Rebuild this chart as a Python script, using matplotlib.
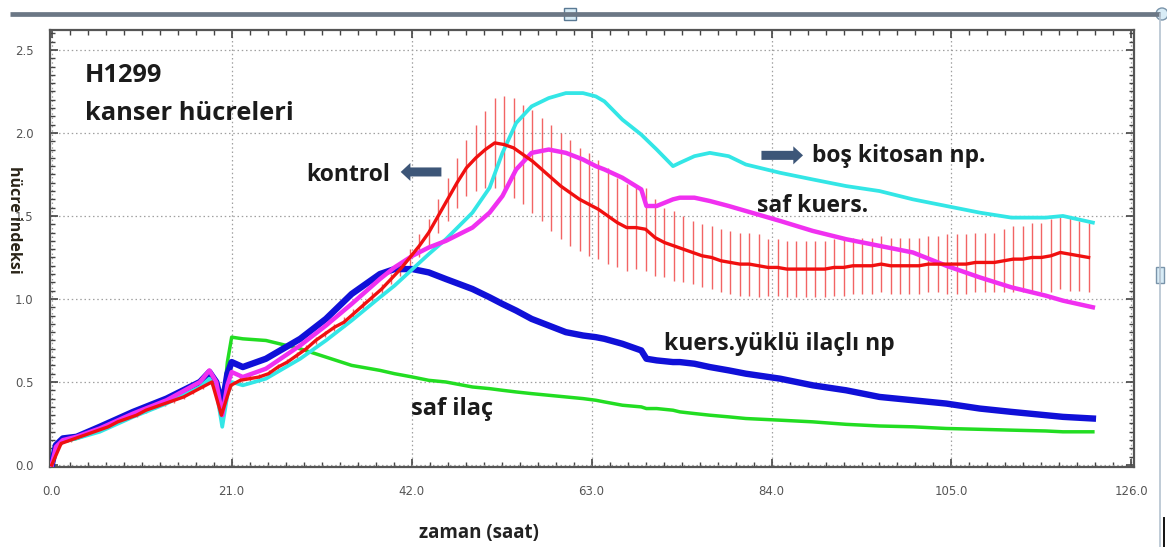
import matplotlib
matplotlib.use("Agg")
import matplotlib.pyplot as plt
from matplotlib.lines import Line2D
from matplotlib.patches import Rectangle, Ellipse
from matplotlib.ticker import MultipleLocator, FixedLocator

# ---------------- data ----------------
# measurement times (h) shared by the four treatment curves
saat = [0.0, 0.5, 1.3, 2.9, 5.6, 9.5, 13.4, 17.3, 18.4, 19.2,
        19.9, 20.5, 21.0, 22.3, 25.0, 29.0, 32.0, 35.0, 38.3, 40.0,
        42.1, 44.0, 46.0, 49.1, 51.1, 52.6, 54.2, 56.0, 58.0, 60.0,
        62.0, 63.5, 64.5, 66.6, 68.8, 69.4, 70.6, 72.5, 73.3, 75.0,
        76.8, 79.0, 81.0, 85.0, 88.8, 92.7, 96.6, 100.5, 104.4, 108.3,
        112.0, 116.0, 118.0, 121.5]

kuers_yuklu_np = [0.00, 0.12, 0.16, 0.17, 0.23, 0.32, 0.40, 0.50, 0.56, 0.50,
                  0.36, 0.55, 0.62, 0.59, 0.64, 0.76, 0.88, 1.03, 1.15, 1.18,
                  1.18, 1.16, 1.12, 1.06, 1.01, 0.97, 0.93, 0.88, 0.84, 0.80,
                  0.78, 0.77, 0.76, 0.73, 0.69, 0.64, 0.63, 0.62, 0.62, 0.61,
                  0.59, 0.57, 0.55, 0.52, 0.48, 0.45, 0.41, 0.39, 0.37, 0.34,
                  0.32, 0.30, 0.29, 0.28]

saf_ilac = [0.00, 0.10, 0.14, 0.16, 0.21, 0.30, 0.38, 0.47, 0.52, 0.46,
            0.30, 0.62, 0.77, 0.76, 0.75, 0.70, 0.65, 0.60, 0.57, 0.55,
            0.53, 0.51, 0.50, 0.47, 0.46, 0.45, 0.44, 0.43, 0.42, 0.41,
            0.40, 0.39, 0.38, 0.36, 0.35, 0.34, 0.34, 0.33, 0.32, 0.31,
            0.30, 0.29, 0.28, 0.27, 0.26, 0.245, 0.235, 0.23, 0.22, 0.215,
            0.21, 0.205, 0.20, 0.20]

bos_kitosan_np = [0.00, 0.10, 0.14, 0.16, 0.20, 0.29, 0.37, 0.47, 0.52, 0.45,
                  0.23, 0.42, 0.50, 0.48, 0.52, 0.64, 0.75, 0.87, 1.01, 1.08,
                  1.18, 1.27, 1.36, 1.52, 1.67, 1.88, 2.06, 2.16, 2.21, 2.24,
                  2.24, 2.22, 2.19, 2.08, 1.99, 1.96, 1.90, 1.80, 1.82, 1.86,
                  1.88, 1.86, 1.81, 1.76, 1.72, 1.68, 1.65, 1.60, 1.56, 1.52,
                  1.49, 1.49, 1.50, 1.46]

saf_kuers = [0.00, 0.11, 0.15, 0.17, 0.22, 0.31, 0.39, 0.50, 0.57, 0.50,
             0.30, 0.48, 0.56, 0.53, 0.58, 0.72, 0.84, 0.97, 1.12, 1.19,
             1.26, 1.31, 1.35, 1.43, 1.52, 1.62, 1.78, 1.88, 1.90, 1.88,
             1.84, 1.80, 1.78, 1.73, 1.66, 1.56, 1.56, 1.60, 1.61, 1.61,
             1.59, 1.56, 1.53, 1.47, 1.41, 1.36, 1.32, 1.28, 1.20, 1.13,
             1.07, 1.02, 0.99, 0.95]

# control: mean and standard deviation at every reading
kontrol_saat = [0.0, 1.1, 2.2, 3.3, 4.4, 5.5, 6.6, 7.7, 8.8, 9.9,
                11.0, 12.1, 13.2, 14.3, 15.4, 16.5, 17.6, 18.7, 19.8, 20.9,
                22.0, 23.1, 24.2, 25.3, 26.4, 27.5, 28.6, 29.7, 30.8, 31.9,
                33.0, 34.1, 35.2, 36.3, 37.4, 38.5, 39.6, 40.7, 41.8, 42.9,
                44.0, 45.1, 46.2, 47.3, 48.4, 49.5, 50.6, 51.7, 52.8, 53.9,
                55.0, 56.1, 57.2, 58.3, 59.4, 60.5, 61.6, 62.7, 63.8, 64.9,
                66.0, 67.1, 68.2, 69.3, 70.4, 71.5, 72.6, 73.7, 74.8, 75.9,
                77.0, 78.1, 79.2, 80.3, 81.4, 82.5, 83.6, 84.7, 85.8, 86.9,
                88.0, 89.1, 90.2, 91.3, 92.4, 93.5, 94.6, 95.7, 96.8, 97.9,
                99.0, 100.1, 101.2, 102.3, 103.4, 104.5, 105.6, 106.7, 107.8, 108.9,
                110.0, 111.1, 112.2, 113.3, 114.4, 115.5, 116.6, 117.7, 118.8, 119.9,
                121.0]

kontrol = [0.00, 0.13, 0.15, 0.17, 0.19, 0.21, 0.23, 0.26, 0.28, 0.30,
           0.33, 0.35, 0.37, 0.39, 0.41, 0.44, 0.47, 0.50, 0.30, 0.48,
           0.51, 0.52, 0.53, 0.55, 0.59, 0.62, 0.66, 0.70, 0.75, 0.79,
           0.83, 0.86, 0.91, 0.96, 1.01, 1.06, 1.12, 1.18, 1.25, 1.32,
           1.40, 1.50, 1.60, 1.70, 1.79, 1.85, 1.90, 1.94, 1.93, 1.91,
           1.87, 1.83, 1.78, 1.73, 1.68, 1.64, 1.60, 1.57, 1.54, 1.50,
           1.46, 1.43, 1.43, 1.42, 1.37, 1.34, 1.32, 1.30, 1.28, 1.26,
           1.25, 1.23, 1.22, 1.21, 1.21, 1.20, 1.19, 1.19, 1.18, 1.18,
           1.18, 1.18, 1.18, 1.19, 1.19, 1.20, 1.20, 1.20, 1.21, 1.20,
           1.20, 1.20, 1.20, 1.21, 1.21, 1.21, 1.21, 1.21, 1.22, 1.22,
           1.22, 1.23, 1.24, 1.24, 1.25, 1.25, 1.26, 1.28, 1.27, 1.26,
           1.25]

kontrol_sd = [0.00, 0.01, 0.01, 0.01, 0.01, 0.01, 0.01, 0.01, 0.01, 0.01,
              0.015, 0.015, 0.015, 0.015, 0.015, 0.015, 0.015, 0.015, 0.02, 0.02,
              0.02, 0.02, 0.02, 0.02, 0.02, 0.02, 0.02, 0.02, 0.02, 0.02,
              0.02, 0.03, 0.03, 0.03, 0.03, 0.03, 0.03, 0.04, 0.05, 0.07,
              0.08, 0.10, 0.13, 0.15, 0.17, 0.20, 0.23, 0.27, 0.29, 0.30,
              0.30, 0.31, 0.31, 0.32, 0.32, 0.32, 0.31, 0.31, 0.30, 0.29,
              0.27, 0.26, 0.25, 0.25, 0.23, 0.21, 0.21, 0.20, 0.19, 0.19,
              0.19, 0.19, 0.19, 0.19, 0.19, 0.19, 0.17, 0.17, 0.17, 0.17,
              0.17, 0.17, 0.17, 0.17, 0.17, 0.17, 0.17, 0.17, 0.17, 0.17,
              0.17, 0.17, 0.17, 0.17, 0.17, 0.18, 0.18, 0.18, 0.18, 0.18,
              0.18, 0.19, 0.20, 0.20, 0.21, 0.21, 0.22, 0.22, 0.22, 0.21,
              0.21]

x_ticks = [0.0, 21.0, 42.0, 63.0, 84.0, 105.0, 126.0]
y_ticks = [0.0, 0.5, 1.0, 1.5, 2.0, 2.5]

# ---------------- figure ----------------
W, H = 1167, 547
fig = plt.figure(figsize=(W / 100, H / 100), dpi=100)
fig.patch.set_facecolor("white")

ax = fig.add_axes([50 / W, 1 - 467 / H, (1134 - 50) / W, (467 - 30) / H])
ax.set_xlim(-0.2, 126.3)
ax.set_ylim(-0.012, 2.62)

# control error bars and curves
lo = [m - s for m, s in zip(kontrol, kontrol_sd)]
hi = [m + s for m, s in zip(kontrol, kontrol_sd)]
ax.vlines(kontrol_saat, lo, hi, colors="#f26464", linewidth=1.0, zorder=2)

ax.plot(saat, saf_ilac, color="#22dd22", lw=2.5, zorder=3, solid_joinstyle="round")
ax.plot(saat, kuers_yuklu_np, color="#1010d8", lw=4.6, zorder=4, solid_joinstyle="round")
ax.plot(saat, bos_kitosan_np, color="#33e6e6", lw=2.7, zorder=5, solid_joinstyle="round")
ax.plot(saat, saf_kuers, color="#f030f0", lw=3.2, zorder=6, solid_joinstyle="round")
ax.plot(kontrol_saat, kontrol, color="#f01010", lw=2.4, zorder=7, solid_joinstyle="round")

# axes styling
ax.xaxis.set_major_locator(FixedLocator(x_ticks))
ax.xaxis.set_minor_locator(MultipleLocator(2.1))
ax.yaxis.set_major_locator(FixedLocator(y_ticks))
ax.yaxis.set_minor_locator(MultipleLocator(0.05))
ax.set_xticklabels([f"{v:.1f}" for v in x_ticks])
ax.set_yticklabels([f"{v:.1f}" for v in y_ticks])
ax.tick_params(which="both", direction="in", top=True, right=True,
               color="#444444", labelcolor="#555555", labelsize=8.5)
ax.tick_params(which="major", length=6, width=1.2)
ax.tick_params(which="minor", length=3.5, width=1.0)
ax.tick_params(axis="x", which="major", pad=13)
ax.tick_params(axis="y", which="major", pad=12)
for sp in ax.spines.values():
    sp.set_color("#555555")
    sp.set_linewidth(1.6)
ax.grid(True, which="major", linestyle=(0, (1.2, 2.2)), color="#a0a0a0", lw=0.9)
ax.set_axisbelow(True)

bold = dict(family=["Open Sans", "DejaVu Sans"], fontweight="bold", color="#1b1b1b")
ax.text(3.85, 2.345, "H1299", fontsize=18.3, va="center", ha="left", **bold)
ax.text(3.85, 2.12, "kanser hücreleri", fontsize=18.3, va="center", ha="left", **bold)
ax.text(29.75, 1.745, "kontrol", fontsize=16.5, va="center", ha="left", **bold)
ax.text(88.7, 1.86, "boş kitosan np.", fontsize=16.5, va="center", ha="left", **bold)
ax.text(82.3, 1.56, "saf kuers.", fontsize=16.5, va="center", ha="left", **bold)
ax.text(71.4, 0.726, "kuers.yüklü ilaçlı np", fontsize=16.5, va="center", ha="left", **bold)
ax.text(41.9, 0.336, "saf ilaç", fontsize=17, va="center", ha="left", **bold)

arrow = dict(arrowstyle="simple,head_length=0.7,head_width=1.3,tail_width=0.65",
             color="#3d5678", lw=0)
ax.annotate("", xy=(40.4, 1.765), xytext=(45.8, 1.765), arrowprops=arrow, zorder=8)
ax.annotate("", xy=(88.0, 1.865), xytext=(82.5, 1.865), arrowprops=arrow, zorder=8)

fig.text(479 / W, 1 - 533 / H, "zaman (saat)", ha="center", va="center",
         fontsize=13.5, family=["Open Sans", "DejaVu Sans"], fontweight="bold",
         color="#222222")
fig.text(14 / W, 1 - 220 / H, "hücre indeksi", ha="center", va="center", rotation=-90,
         fontsize=11.5, family=["Open Sans", "DejaVu Sans"], fontweight="bold",
         color="#2a2418")

# selection frame around the chart
fig.add_artist(Line2D([10 / W, 1160 / W], [1 - 14 / H, 1 - 14 / H], color="#6b7785",
                      lw=3.4, solid_capstyle="butt"))
fig.add_artist(Line2D([1160 / W, 1160 / W], [1 - 14 / H, 0], color="#b4c2d0", lw=1.2))
fig.add_artist(Line2D([1164 / W, 1164 / W], [1 - 518 / H, 0], color="#111111", lw=1.4))
fig.add_artist(Rectangle((564 / W, 1 - 20 / H), 12 / W, 12 / H, facecolor="#d8ecf6",
                         edgecolor="#5a7a94", lw=1.0))
fig.add_artist(Rectangle((1156 / W, 1 - 283 / H), 8 / W, 16 / H, facecolor="#d8ecf6",
                         edgecolor="#7a94aa", lw=1.0))
fig.add_artist(Ellipse((1162 / W, 1 - 14 / H), 12 / W, 12 / H, facecolor="#d8ecf6",
                       edgecolor="#7a94aa", lw=1.0))

fig.savefig("out.png", dpi=100, facecolor="white")
